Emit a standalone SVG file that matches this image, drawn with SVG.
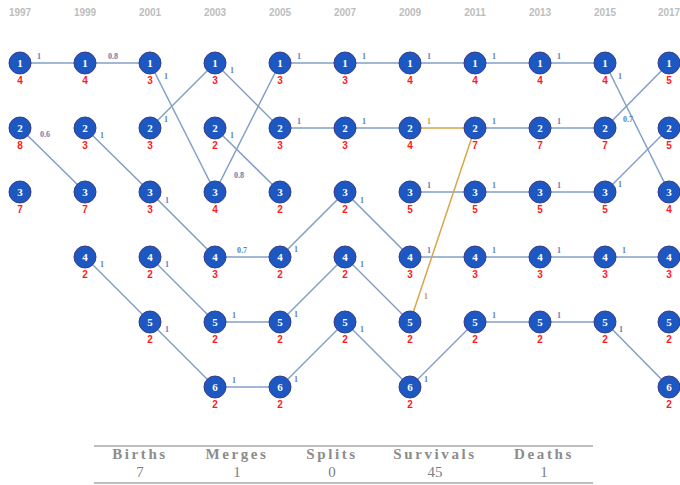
<svg xmlns="http://www.w3.org/2000/svg" width="680" height="485" viewBox="0 0 680 485">
<style>
.e{stroke:#809fc8;stroke-width:1.5;fill:none}
.o{stroke:#d9a54a}
.n circle{fill:#1c57c2;stroke:#3a3d8a;stroke-width:1}
.id{font-family:"Liberation Serif",serif;font-weight:bold;font-size:11px;fill:#ffffff;text-anchor:middle}
.ct{font-family:"Liberation Sans",sans-serif;font-weight:bold;font-size:10px;fill:#ff1a1a;text-anchor:middle}
.yr{font-family:"Liberation Sans",sans-serif;font-weight:bold;font-size:10px;fill:#bdbdbd;text-anchor:middle}
.el{font-family:"Liberation Serif",serif;font-weight:bold;font-size:8px;fill:#5a82b5;text-anchor:middle}
.eo{fill:#c99a3e}
.th{font-family:"Liberation Serif",serif;font-weight:bold;font-size:15px;fill:#8c8c8c;text-anchor:middle;letter-spacing:2.6px}
.tn{font-family:"Liberation Serif",serif;font-size:15px;fill:#808080;text-anchor:middle}
.rule{stroke:#a8a8a8;stroke-width:1.5}
</style>
<g id="years">
<text class="yr" x="20" y="16">1997</text>
<text class="yr" x="85" y="16">1999</text>
<text class="yr" x="150" y="16">2001</text>
<text class="yr" x="215" y="16">2003</text>
<text class="yr" x="280" y="16">2005</text>
<text class="yr" x="345" y="16">2007</text>
<text class="yr" x="410" y="16">2009</text>
<text class="yr" x="475" y="16">2011</text>
<text class="yr" x="540" y="16">2013</text>
<text class="yr" x="605" y="16">2015</text>
<text class="yr" x="669" y="16">2017</text>
</g>
<g id="connectors">
<line class="e" x1="20" y1="63" x2="85" y2="63"/>
<line class="e" x1="20" y1="128" x2="85" y2="192"/>
<line class="e" x1="85" y1="63" x2="150" y2="63"/>
<line class="e" x1="85" y1="128" x2="150" y2="192"/>
<line class="e" x1="85" y1="257" x2="150" y2="322"/>
<line class="e" x1="150" y1="63" x2="215" y2="192"/>
<line class="e" x1="150" y1="128" x2="215" y2="63"/>
<line class="e" x1="150" y1="192" x2="215" y2="257"/>
<line class="e" x1="150" y1="257" x2="215" y2="322"/>
<line class="e" x1="150" y1="322" x2="215" y2="387"/>
<line class="e" x1="215" y1="63" x2="280" y2="128"/>
<line class="e" x1="215" y1="128" x2="280" y2="192"/>
<line class="e" x1="215" y1="192" x2="280" y2="63"/>
<line class="e" x1="215" y1="257" x2="280" y2="257"/>
<line class="e" x1="215" y1="322" x2="280" y2="322"/>
<line class="e" x1="215" y1="387" x2="280" y2="387"/>
<line class="e" x1="280" y1="63" x2="345" y2="63"/>
<line class="e" x1="280" y1="128" x2="345" y2="128"/>
<line class="e" x1="280" y1="257" x2="345" y2="192"/>
<line class="e" x1="280" y1="322" x2="345" y2="257"/>
<line class="e" x1="280" y1="387" x2="345" y2="322"/>
<line class="e" x1="345" y1="63" x2="410" y2="63"/>
<line class="e" x1="345" y1="128" x2="410" y2="128"/>
<line class="e" x1="345" y1="192" x2="410" y2="257"/>
<line class="e" x1="345" y1="257" x2="410" y2="322"/>
<line class="e" x1="345" y1="322" x2="410" y2="387"/>
<line class="e" x1="410" y1="63" x2="475" y2="63"/>
<line class="e o" x1="410" y1="128" x2="475" y2="128"/>
<line class="e" x1="410" y1="192" x2="475" y2="192"/>
<line class="e" x1="410" y1="257" x2="475" y2="257"/>
<line class="e o" x1="410" y1="322" x2="475" y2="128"/>
<line class="e" x1="410" y1="387" x2="475" y2="322"/>
<line class="e" x1="475" y1="63" x2="540" y2="63"/>
<line class="e" x1="475" y1="128" x2="540" y2="128"/>
<line class="e" x1="475" y1="192" x2="540" y2="192"/>
<line class="e" x1="475" y1="257" x2="540" y2="257"/>
<line class="e" x1="475" y1="322" x2="540" y2="322"/>
<line class="e" x1="540" y1="63" x2="605" y2="63"/>
<line class="e" x1="540" y1="128" x2="605" y2="128"/>
<line class="e" x1="540" y1="192" x2="605" y2="192"/>
<line class="e" x1="540" y1="257" x2="605" y2="257"/>
<line class="e" x1="540" y1="322" x2="605" y2="322"/>
<line class="e" x1="605" y1="63" x2="669" y2="192"/>
<line class="e" x1="605" y1="128" x2="669" y2="63"/>
<line class="e" x1="605" y1="192" x2="669" y2="128"/>
<line class="e" x1="605" y1="257" x2="669" y2="257"/>
<line class="e" x1="605" y1="322" x2="669" y2="387"/>
</g>
<g id="edge-labels">
<text class="el" x="39" y="59">1</text>
<text class="el" x="45" y="137">0.6</text>
<text class="el" x="113" y="59">0.8</text>
<text class="el" x="102" y="138">1</text>
<text class="el" x="102" y="267">1</text>
<text class="el" x="166" y="79">1</text>
<text class="el" x="166" y="122">1</text>
<text class="el" x="167" y="203">1</text>
<text class="el" x="167" y="267">1</text>
<text class="el" x="167" y="332">1</text>
<text class="el" x="232" y="73">1</text>
<text class="el" x="232" y="138">1</text>
<text class="el" x="239" y="178">0.8</text>
<text class="el" x="242" y="253">0.7</text>
<text class="el" x="234" y="318">1</text>
<text class="el" x="234" y="383">1</text>
<text class="el" x="299" y="59">1</text>
<text class="el" x="299" y="124">1</text>
<text class="el" x="296" y="252">1</text>
<text class="el" x="296" y="317">1</text>
<text class="el" x="296" y="382">1</text>
<text class="el" x="364" y="59">1</text>
<text class="el" x="364" y="124">1</text>
<text class="el" x="362" y="203">1</text>
<text class="el" x="362" y="267">1</text>
<text class="el" x="362" y="332">1</text>
<text class="el" x="429" y="59">1</text>
<text class="el eo" x="429" y="124">1</text>
<text class="el" x="429" y="188">1</text>
<text class="el" x="429" y="253">1</text>
<text class="el eo" x="426" y="299">1</text>
<text class="el" x="426" y="382">1</text>
<text class="el" x="494" y="59">1</text>
<text class="el" x="494" y="124">1</text>
<text class="el" x="494" y="188">1</text>
<text class="el" x="494" y="253">1</text>
<text class="el" x="494" y="318">1</text>
<text class="el" x="559" y="59">1</text>
<text class="el" x="559" y="124">1</text>
<text class="el" x="559" y="188">1</text>
<text class="el" x="559" y="253">1</text>
<text class="el" x="559" y="318">1</text>
<text class="el" x="620" y="79">1</text>
<text class="el" x="628" y="122">0.7</text>
<text class="el" x="620" y="187">1</text>
<text class="el" x="624" y="253">1</text>
<text class="el" x="621" y="332">1</text>
</g>
<g id="n1997-1" class="n"><circle cx="20" cy="63" r="11"/><text class="id" x="20" y="67">1</text><text class="ct" x="20" y="84">4</text></g>
<g id="n1997-2" class="n"><circle cx="20" cy="128" r="11"/><text class="id" x="20" y="132">2</text><text class="ct" x="20" y="149">8</text></g>
<g id="n1997-3" class="n"><circle cx="20" cy="192" r="11"/><text class="id" x="20" y="196">3</text><text class="ct" x="20" y="213">7</text></g>
<g id="n1999-1" class="n"><circle cx="85" cy="63" r="11"/><text class="id" x="85" y="67">1</text><text class="ct" x="85" y="84">4</text></g>
<g id="n1999-2" class="n"><circle cx="85" cy="128" r="11"/><text class="id" x="85" y="132">2</text><text class="ct" x="85" y="149">3</text></g>
<g id="n1999-3" class="n"><circle cx="85" cy="192" r="11"/><text class="id" x="85" y="196">3</text><text class="ct" x="85" y="213">7</text></g>
<g id="n1999-4" class="n"><circle cx="85" cy="257" r="11"/><text class="id" x="85" y="261">4</text><text class="ct" x="85" y="278">2</text></g>
<g id="n2001-1" class="n"><circle cx="150" cy="63" r="11"/><text class="id" x="150" y="67">1</text><text class="ct" x="150" y="84">3</text></g>
<g id="n2001-2" class="n"><circle cx="150" cy="128" r="11"/><text class="id" x="150" y="132">2</text><text class="ct" x="150" y="149">3</text></g>
<g id="n2001-3" class="n"><circle cx="150" cy="192" r="11"/><text class="id" x="150" y="196">3</text><text class="ct" x="150" y="213">3</text></g>
<g id="n2001-4" class="n"><circle cx="150" cy="257" r="11"/><text class="id" x="150" y="261">4</text><text class="ct" x="150" y="278">2</text></g>
<g id="n2001-5" class="n"><circle cx="150" cy="322" r="11"/><text class="id" x="150" y="326">5</text><text class="ct" x="150" y="343">2</text></g>
<g id="n2003-1" class="n"><circle cx="215" cy="63" r="11"/><text class="id" x="215" y="67">1</text><text class="ct" x="215" y="84">3</text></g>
<g id="n2003-2" class="n"><circle cx="215" cy="128" r="11"/><text class="id" x="215" y="132">2</text><text class="ct" x="215" y="149">2</text></g>
<g id="n2003-3" class="n"><circle cx="215" cy="192" r="11"/><text class="id" x="215" y="196">3</text><text class="ct" x="215" y="213">4</text></g>
<g id="n2003-4" class="n"><circle cx="215" cy="257" r="11"/><text class="id" x="215" y="261">4</text><text class="ct" x="215" y="278">3</text></g>
<g id="n2003-5" class="n"><circle cx="215" cy="322" r="11"/><text class="id" x="215" y="326">5</text><text class="ct" x="215" y="343">2</text></g>
<g id="n2003-6" class="n"><circle cx="215" cy="387" r="11"/><text class="id" x="215" y="391">6</text><text class="ct" x="215" y="408">2</text></g>
<g id="n2005-1" class="n"><circle cx="280" cy="63" r="11"/><text class="id" x="280" y="67">1</text><text class="ct" x="280" y="84">3</text></g>
<g id="n2005-2" class="n"><circle cx="280" cy="128" r="11"/><text class="id" x="280" y="132">2</text><text class="ct" x="280" y="149">3</text></g>
<g id="n2005-3" class="n"><circle cx="280" cy="192" r="11"/><text class="id" x="280" y="196">3</text><text class="ct" x="280" y="213">2</text></g>
<g id="n2005-4" class="n"><circle cx="280" cy="257" r="11"/><text class="id" x="280" y="261">4</text><text class="ct" x="280" y="278">2</text></g>
<g id="n2005-5" class="n"><circle cx="280" cy="322" r="11"/><text class="id" x="280" y="326">5</text><text class="ct" x="280" y="343">2</text></g>
<g id="n2005-6" class="n"><circle cx="280" cy="387" r="11"/><text class="id" x="280" y="391">6</text><text class="ct" x="280" y="408">2</text></g>
<g id="n2007-1" class="n"><circle cx="345" cy="63" r="11"/><text class="id" x="345" y="67">1</text><text class="ct" x="345" y="84">3</text></g>
<g id="n2007-2" class="n"><circle cx="345" cy="128" r="11"/><text class="id" x="345" y="132">2</text><text class="ct" x="345" y="149">3</text></g>
<g id="n2007-3" class="n"><circle cx="345" cy="192" r="11"/><text class="id" x="345" y="196">3</text><text class="ct" x="345" y="213">2</text></g>
<g id="n2007-4" class="n"><circle cx="345" cy="257" r="11"/><text class="id" x="345" y="261">4</text><text class="ct" x="345" y="278">2</text></g>
<g id="n2007-5" class="n"><circle cx="345" cy="322" r="11"/><text class="id" x="345" y="326">5</text><text class="ct" x="345" y="343">2</text></g>
<g id="n2009-1" class="n"><circle cx="410" cy="63" r="11"/><text class="id" x="410" y="67">1</text><text class="ct" x="410" y="84">4</text></g>
<g id="n2009-2" class="n"><circle cx="410" cy="128" r="11"/><text class="id" x="410" y="132">2</text><text class="ct" x="410" y="149">4</text></g>
<g id="n2009-3" class="n"><circle cx="410" cy="192" r="11"/><text class="id" x="410" y="196">3</text><text class="ct" x="410" y="213">5</text></g>
<g id="n2009-4" class="n"><circle cx="410" cy="257" r="11"/><text class="id" x="410" y="261">4</text><text class="ct" x="410" y="278">3</text></g>
<g id="n2009-5" class="n"><circle cx="410" cy="322" r="11"/><text class="id" x="410" y="326">5</text><text class="ct" x="410" y="343">2</text></g>
<g id="n2009-6" class="n"><circle cx="410" cy="387" r="11"/><text class="id" x="410" y="391">6</text><text class="ct" x="410" y="408">2</text></g>
<g id="n2011-1" class="n"><circle cx="475" cy="63" r="11"/><text class="id" x="475" y="67">1</text><text class="ct" x="475" y="84">4</text></g>
<g id="n2011-2" class="n"><circle cx="475" cy="128" r="11"/><text class="id" x="475" y="132">2</text><text class="ct" x="475" y="149">7</text></g>
<g id="n2011-3" class="n"><circle cx="475" cy="192" r="11"/><text class="id" x="475" y="196">3</text><text class="ct" x="475" y="213">5</text></g>
<g id="n2011-4" class="n"><circle cx="475" cy="257" r="11"/><text class="id" x="475" y="261">4</text><text class="ct" x="475" y="278">3</text></g>
<g id="n2011-5" class="n"><circle cx="475" cy="322" r="11"/><text class="id" x="475" y="326">5</text><text class="ct" x="475" y="343">2</text></g>
<g id="n2013-1" class="n"><circle cx="540" cy="63" r="11"/><text class="id" x="540" y="67">1</text><text class="ct" x="540" y="84">4</text></g>
<g id="n2013-2" class="n"><circle cx="540" cy="128" r="11"/><text class="id" x="540" y="132">2</text><text class="ct" x="540" y="149">7</text></g>
<g id="n2013-3" class="n"><circle cx="540" cy="192" r="11"/><text class="id" x="540" y="196">3</text><text class="ct" x="540" y="213">5</text></g>
<g id="n2013-4" class="n"><circle cx="540" cy="257" r="11"/><text class="id" x="540" y="261">4</text><text class="ct" x="540" y="278">3</text></g>
<g id="n2013-5" class="n"><circle cx="540" cy="322" r="11"/><text class="id" x="540" y="326">5</text><text class="ct" x="540" y="343">2</text></g>
<g id="n2015-1" class="n"><circle cx="605" cy="63" r="11"/><text class="id" x="605" y="67">1</text><text class="ct" x="605" y="84">4</text></g>
<g id="n2015-2" class="n"><circle cx="605" cy="128" r="11"/><text class="id" x="605" y="132">2</text><text class="ct" x="605" y="149">7</text></g>
<g id="n2015-3" class="n"><circle cx="605" cy="192" r="11"/><text class="id" x="605" y="196">3</text><text class="ct" x="605" y="213">5</text></g>
<g id="n2015-4" class="n"><circle cx="605" cy="257" r="11"/><text class="id" x="605" y="261">4</text><text class="ct" x="605" y="278">3</text></g>
<g id="n2015-5" class="n"><circle cx="605" cy="322" r="11"/><text class="id" x="605" y="326">5</text><text class="ct" x="605" y="343">2</text></g>
<g id="n2017-1" class="n"><circle cx="669" cy="63" r="11"/><text class="id" x="669" y="67">1</text><text class="ct" x="669" y="84">5</text></g>
<g id="n2017-2" class="n"><circle cx="669" cy="128" r="11"/><text class="id" x="669" y="132">2</text><text class="ct" x="669" y="149">5</text></g>
<g id="n2017-3" class="n"><circle cx="669" cy="192" r="11"/><text class="id" x="669" y="196">3</text><text class="ct" x="669" y="213">4</text></g>
<g id="n2017-4" class="n"><circle cx="669" cy="257" r="11"/><text class="id" x="669" y="261">4</text><text class="ct" x="669" y="278">3</text></g>
<g id="n2017-5" class="n"><circle cx="669" cy="322" r="11"/><text class="id" x="669" y="326">5</text><text class="ct" x="669" y="343">2</text></g>
<g id="n2017-6" class="n"><circle cx="669" cy="387" r="11"/><text class="id" x="669" y="391">6</text><text class="ct" x="669" y="408">2</text></g>
<g id="summary">
<line class="rule" x1="94" y1="446" x2="593" y2="446"/>
<line class="rule" x1="94" y1="483" x2="593" y2="483"/>
<text class="th" x="140" y="459">Births</text>
<text class="th" x="237" y="459">Merges</text>
<text class="th" x="332" y="459">Splits</text>
<text class="th" x="435" y="459">Survivals</text>
<text class="th" x="544" y="459">Deaths</text>
<text class="tn" x="140" y="477">7</text>
<text class="tn" x="237" y="477">1</text>
<text class="tn" x="332" y="477">0</text>
<text class="tn" x="435" y="477">45</text>
<text class="tn" x="544" y="477">1</text>
</g>
</svg>
